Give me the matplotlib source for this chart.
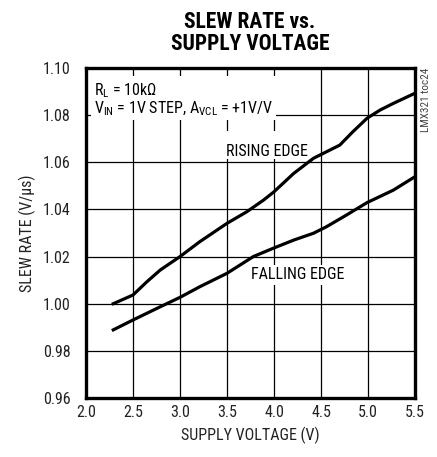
import numpy as np
import matplotlib.pyplot as plt
from matplotlib.patches import Rectangle

# rising / falling edge slew rate vs supply voltage
v_rise = [2.29, 2.5, 2.65, 2.79, 3.0, 3.21, 3.5, 3.71, 3.89, 4.0, 4.21, 4.42, 4.56, 4.7, 4.84, 4.99, 5.13, 5.27, 5.5]
sr_rise = [1.000, 1.0037, 1.0094, 1.0143, 1.020, 1.0263, 1.0341, 1.039, 1.044, 1.0475, 1.0553, 1.0617,
           1.0645, 1.0673, 1.073, 1.0787, 1.0822, 1.085, 1.0893]
v_fall = [2.29, 2.5, 2.79, 3.0, 3.21, 3.5, 3.78, 3.99, 4.21, 4.42, 4.56, 4.77, 4.99, 5.27, 5.5]
sr_fall = [0.9889, 0.9931, 0.9987, 1.0027, 1.0072, 1.0129, 1.020, 1.0235, 1.027, 1.0299, 1.0327,
           1.0376, 1.0429, 1.0482, 1.0539]

xticks = [2.0, 2.5, 3.0, 3.5, 4.0, 4.5, 5.0, 5.5]
yticks = [0.96, 0.98, 1.00, 1.02, 1.04, 1.06, 1.08, 1.10]

plt.rcParams['font.family'] = ['Liberation Sans Narrow', 'Roboto Condensed', 'Liberation Sans', 'DejaVu Sans']

fig = plt.figure(figsize=(4.37, 4.57), dpi=100)
ax = fig.add_axes([0.1968, 0.1291, 0.7529, 0.7221])

ax.plot(v_rise, sr_rise, color='black', lw=2.3, zorder=3)
ax.plot(v_fall, sr_fall, color='black', lw=2.3, zorder=3)

ax.set_xlim(2.0, 5.5)
ax.set_ylim(0.96, 1.10)
ax.set_xticks(xticks)
ax.set_yticks(yticks)
ax.set_xticklabels(['%.1f' % t for t in xticks])
ax.set_yticklabels(['%.2f' % t for t in yticks])
ax.tick_params(length=0, labelsize=11.5, labelcolor='#222222')
ax.tick_params(axis='x', pad=5)
ax.tick_params(axis='y', pad=11)
ax.grid(True, color='black', lw=0.9)
ax.set_axisbelow(True)
for s in ax.spines.values():
    s.set_linewidth(2.4)

ax.set_xlabel('SUPPLY VOLTAGE (V)', fontsize=11.5, labelpad=5, color='#222222')
ax.set_ylabel('SLEW RATE (V/µs)', fontsize=11.5, labelpad=5, color='#222222')
fig.text(0.572, 0.977, 'SLEW RATE vs.\nSUPPLY VOLTAGE', ha='center', va='top',
         fontsize=15.5, fontweight='bold', linespacing=1.05)

# white areas where the annotations cut the grid
ax.add_patch(Rectangle((2.0, 1.0805), 2.22, 0.0161, facecolor='white', edgecolor='none', zorder=1.5))
ax.add_patch(Rectangle((3.44, 1.0612), 0.98, 0.0121, facecolor='white', edgecolor='none', zorder=1.5))

box = dict(facecolor='white', edgecolor='none', pad=2)
ax.text(2.08, 1.0885, r'R$_\mathregular{L}$ = 10kΩ', fontsize=11.5, va='baseline', zorder=2)
ax.text(2.08, 1.0809, r'V$_\mathregular{IN}$ = 1V STEP, A$_\mathregular{VCL}$ = +1V/V',
        fontsize=11.5, va='baseline', bbox=box, zorder=2)
ax.text(3.93, 1.0645, 'RISING EDGE', fontsize=11.5, ha='center', va='center', zorder=2)
ax.text(4.25, 1.0122, 'FALLING EDGE', fontsize=11.5, ha='center', va='center', bbox=box, zorder=2)

fig.text(0.974, 0.852, 'LMX321 toc24', rotation=90, fontsize=8, color='#444444',
         ha='center', va='top')

fig.savefig('out.png', dpi=100)
